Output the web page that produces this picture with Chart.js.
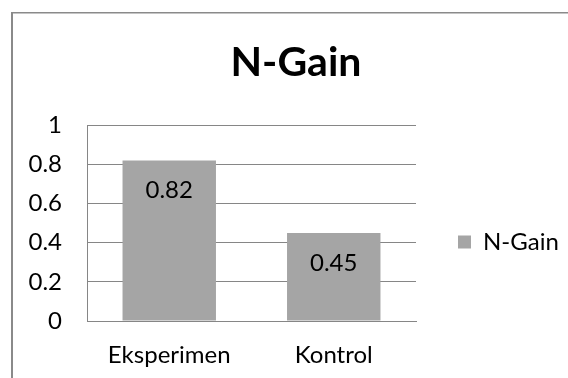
<!DOCTYPE html>
<html>
<head>
<meta charset="utf-8">
<script src="https://cdn.jsdelivr.net/npm/chart.js@4/dist/chart.umd.min.js"></script>
<style>
  html, body { margin: 0; padding: 0; background: #ffffff; }
  #wrap { position: relative; width: 568px; height: 378px; }
</style>
</head>
<body>
<div id="wrap"><canvas id="c" width="568" height="378"></canvas></div>
<script>
const categories = ["Eksperimen", "Kontrol"];
const seriesName = "N-Gain";
const nGainValues = [0.82, 0.45];
const yTicks = [0, 0.2, 0.4, 0.6, 0.8, 1];
const yTickLabels = ["0", "0.2", "0.4", "0.6", "0.8", "1"];
const chartTitle = "N-Gain";

const FONT = "Lato, 'DejaVu Sans', sans-serif";
const GRID = "#868686";
const BAR = "#A5A5A5";

const framePlugin = {
  id: "frame",
  beforeDraw(chart) {
    const ctx = chart.ctx;
    ctx.save();
    ctx.fillStyle = "#8a8a8a";
    ctx.fillRect(11, 12, 2, chart.height - 12);
    ctx.fillRect(11, 12, chart.width - 11, 1.5);
    ctx.restore();
  }
};

const legendFit = {
  id: "legendFit",
  beforeInit(chart) {
    const lg = chart.legend;
    if (!lg) return;
    const orig = lg.fit;
    lg.fit = function () { orig.call(this); this.width = 152; };
  },
  afterLayout(chart) {
    const lg = chart.legend;
    if (!lg) return;
    const h = lg.bottom - lg.top;
    lg.top = 242 - h / 2;
    lg.bottom = lg.top + h;
  }
};

const valueLabels = {
  id: "valueLabels",
  afterDatasetsDraw(chart) {
    const ctx = chart.ctx;
    ctx.save();
    ctx.font = "24px " + FONT;
    ctx.fillStyle = "#000000";
    ctx.textAlign = "center";
    ctx.textBaseline = "middle";
    chart.data.datasets.forEach((ds, di) => {
      chart.getDatasetMeta(di).data.forEach((bar, i) => {
        ctx.fillText(String(ds.data[i]), bar.x, bar.y + 30);
      });
    });
    ctx.restore();
  }
};

new Chart(document.getElementById("c"), {
  type: "bar",
  data: {
    labels: categories,
    datasets: [{
      label: seriesName,
      data: nGainValues,
      backgroundColor: BAR,
      borderWidth: 0,
      categoryPercentage: 1,
      barPercentage: 0.568
    }]
  },
  options: {
    responsive: false,
    animation: false,
    devicePixelRatio: 1,
    layout: { padding: { left: 24, right: 0, top: 0, bottom: 0 } },
    plugins: {
      title: {
        display: true,
        text: chartTitle,
        color: "#000000",
        font: { family: FONT, size: 41, weight: "bold", lineHeight: 1.2 },
        padding: { top: 38, bottom: 38 }
      },
      legend: {
        display: true,
        position: "right",
        fullSize: false,
        align: "center",
        labels: {
          color: "#000000",
          font: { family: FONT, size: 24 },
          boxWidth: 13,
          boxHeight: 13,
          padding: 42
        }
      },
      tooltip: { enabled: false }
    },
    scales: {
      x: {
        grid: { display: false, drawTicks: false },
        border: { display: true, color: GRID, width: 1 },
        ticks: { color: "#000000", font: { family: FONT, size: 24 }, padding: 20, maxRotation: 0 },
        afterFit(s) { s.height = 57; }
      },
      y: {
        min: 0,
        max: 1,
        afterBuildTicks(s) { s.ticks = yTicks.map(v => ({ value: v })); },
        grid: { color: GRID, drawTicks: false, lineWidth: 1 },
        border: { display: true, color: GRID, width: 1 },
        ticks: {
          color: "#000000",
          font: { family: FONT, size: 24 },
          padding: 25,
          callback(value) {
            const i = yTicks.indexOf(value);
            return i >= 0 ? yTickLabels[i] : String(value);
          }
        },
        afterFit(s) { s.width = 63; }
      }
    }
  },
  plugins: [framePlugin, legendFit, valueLabels]
});
</script>
</body>
</html>
